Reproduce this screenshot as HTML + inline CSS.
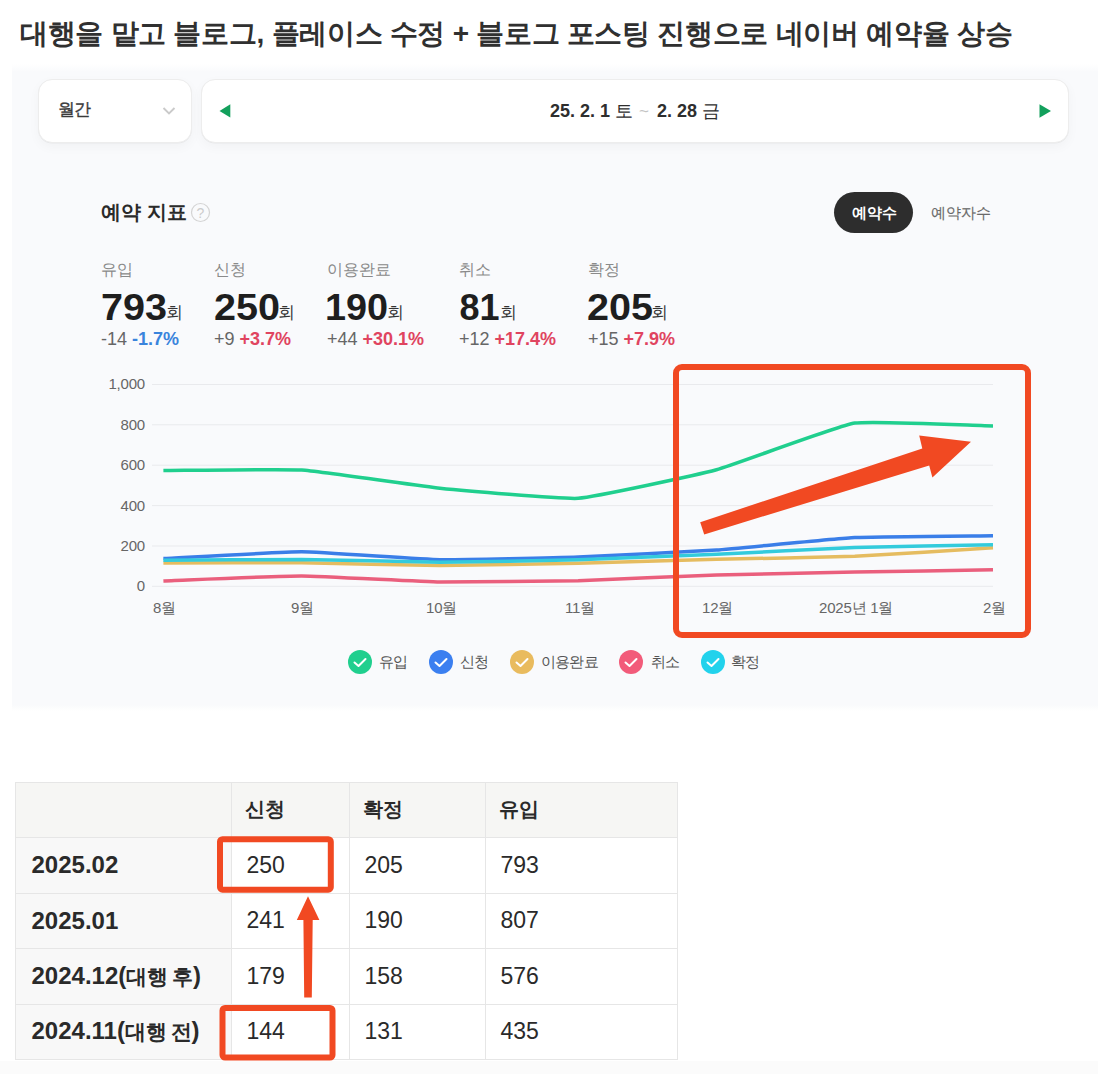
<!DOCTYPE html>
<html><head><meta charset="utf-8">
<style>
*{margin:0;padding:0;box-sizing:border-box}
html,body{width:1098px;height:1074px;overflow:hidden;background:#fff}
body{position:relative;font-family:"Liberation Sans",sans-serif;color:#222}
.abs{position:absolute;white-space:nowrap}
.title{left:20px;top:14px;font-size:28px;font-weight:bold;color:#303030;line-height:40px;letter-spacing:-0.3px}
.panel{left:12px;top:64px;width:1086px;height:647px;background:linear-gradient(to bottom,#fff 0px,#f9fafc 8px,#f9fafc 641px,#fbfcfd 643px,#fff 647px)}
.card{background:#fff;border:1px solid #ededed;border-radius:14px;box-shadow:0 0.5px 0 rgba(0,0,0,0.05),0 4px 12px rgba(0,0,0,0.035)}
.lbl{font-size:16px;color:#8a8a8a;line-height:20px}
.big{font-size:36px;font-weight:bold;color:#1e1e1e;line-height:40px}
.num{display:inline-block;transform:scaleX(1.1);transform-origin:0 50%}
.unit{font-size:16.5px;color:#333;font-weight:normal;letter-spacing:0;margin-left:5px;vertical-align:2px}
.chg{font-size:18px;color:#666;line-height:20px}
.chg b{font-weight:bold}
.red{color:#e0445f}.blue{color:#3a84dc}
.ax{font-size:15px;color:#666;line-height:16px;letter-spacing:-0.2px}
.leg{font-size:14.5px;color:#555;line-height:18px;letter-spacing:-0.6px}
.dot{position:absolute;width:24px;height:24px;border-radius:50%}
table{position:absolute;left:15px;top:781.5px;border-collapse:collapse;font-size:23px;color:#2a2a2a}
td{border:1px solid #e6e6e6;height:55.5px;padding:0 0 0 14.5px;vertical-align:middle}
tr.h td{background:#f6f6f4;font-weight:bold;font-size:20px;padding-left:13px}
.k{font-size:21px;letter-spacing:-0.3px;word-spacing:-1px}
td.c0{background:#f8f8f8;font-weight:bold;width:216px;font-size:24px;padding-left:15.5px}
</style></head><body>
<div class="abs title">대행을 맡고 블로그, 플레이스 수정 + 블로그 포스팅 진행으로 네이버 예약율 상승</div>
<div class="abs panel"></div>
<div class="abs card" style="left:38px;top:79px;width:154px;height:64px"></div>
<div class="abs" style="left:58px;top:100px;font-size:17px;color:#3a3a3a;line-height:20px;-webkit-text-stroke:0.35px #3a3a3a;letter-spacing:-0.8px">월간</div>
<svg class="abs" style="left:160px;top:104px" width="18" height="14"><path d="M3.5,4 L9,9.5 L14.5,4" fill="none" stroke="#cacaca" stroke-width="1.9"/></svg>
<div class="abs card" style="left:201px;top:79px;width:868px;height:64px"></div>
<svg class="abs" style="left:0;top:0" width="1098" height="200"><path d="M219.5,111 L230.3,104.3 L230.3,117.6 Z" fill="#13a05c"/><path d="M1051,111 L1039.5,104.3 L1039.5,117.7 Z" fill="#13a05c"/></svg>
<div class="abs" style="left:550px;top:101px;font-size:18px;font-weight:bold;color:#2e2e2e;line-height:20px">25. 2. 1 <span style="font-weight:normal">토</span><span style="color:#c4c4c4;font-weight:normal;font-size:17px;margin:0 8px 0 6px">~</span>2. 28 <span style="font-weight:normal">금</span></div>

<div class="abs" style="left:101px;top:199px;font-size:20px;font-weight:bold;color:#2a2a2a;line-height:26px">예약 지표</div>
<svg class="abs" style="left:190px;top:202px" width="21" height="21"><circle cx="10.5" cy="10.5" r="9" fill="none" stroke="#d4d4d4" stroke-width="1.2"/><text x="10.5" y="15.5" text-anchor="middle" font-size="14" fill="#cccccc" font-family="Liberation Sans">?</text></svg>
<div class="abs" style="left:834px;top:192px;width:79px;height:41px;border-radius:21px;background:#2d2d2d"></div>
<div class="abs" style="left:852px;top:203px;font-size:15px;font-weight:bold;color:#fff;line-height:20px">예약수</div>
<div class="abs" style="left:930.5px;top:203px;font-size:15px;color:#6a6a6a;line-height:20px;-webkit-text-stroke:0.15px #6a6a6a">예약자수</div>

<div class="abs lbl" style="left:101px;top:260px">유입</div>
<div class="abs big" style="left:101px;top:288px"><span class="num">793</span><span class="unit" style="margin-left:4.5px">회</span></div>
<div class="abs chg" style="left:101px;top:329px">-14 <b class="blue">-1.7%</b></div>
<div class="abs lbl" style="left:214px;top:260px">신청</div>
<div class="abs big" style="left:213.5px;top:288px"><span class="num">250</span><span class="unit" style="margin-left:4px">회</span></div>
<div class="abs chg" style="left:214px;top:329px">+9 <b class="red">+3.7%</b></div>
<div class="abs lbl" style="left:327px;top:260px">이용완료</div>
<div class="abs big" style="left:325px;top:288px"><span class="num" style="transform:scaleX(1.05)">190</span><span class="unit" style="margin-left:2px">회</span></div>
<div class="abs chg" style="left:327px;top:329px">+44 <b class="red">+30.1%</b></div>
<div class="abs lbl" style="left:459px;top:260px">취소</div>
<div class="abs big" style="left:459.5px;top:288px"><span class="num" style="transform:none">81</span><span class="unit" style="margin-left:0.5px">회</span></div>
<div class="abs chg" style="left:459px;top:329px">+12 <b class="red">+17.4%</b></div>
<div class="abs lbl" style="left:588px;top:260px">확정</div>
<div class="abs big" style="left:587px;top:288px"><span class="num">205</span><span class="unit" style="margin-left:4px">회</span></div>
<div class="abs chg" style="left:588px;top:329px">+15 <b class="red">+7.9%</b></div>

<svg class="abs" style="left:0;top:0" width="1098" height="1074">
<g stroke="#e9eaed" stroke-width="1">
<line x1="152" y1="384.5" x2="993" y2="384.5"/><line x1="152" y1="424.8" x2="993" y2="424.8"/><line x1="152" y1="465.2" x2="993" y2="465.2"/><line x1="152" y1="505.6" x2="993" y2="505.6"/><line x1="152" y1="546" x2="993" y2="546"/><line x1="152" y1="586.3" x2="993" y2="586.3"/>
</g>
<g fill="none" stroke-width="3.5" stroke-linecap="butt" stroke-linejoin="round">
<path d="M163.4,470.6 C180.0,470.5 285.1,468.9 301.7,470.0 C318.3,471.1 423.3,486.5 439.9,488.2 C456.5,489.9 561.8,499.4 578.2,498.3 C595.0,497.2 700.2,474.2 716.5,469.8 C733.3,465.2 837.7,425.8 854.8,423.1 C870.9,420.5 976.4,425.6 993.0,425.9" stroke="#20cf8e"/>
<path d="M163.4,558.5 C180.0,557.7 285.1,551.8 301.7,551.8 C318.3,551.9 423.3,559.4 439.9,559.7 C456.5,560.0 561.6,557.7 578.2,557.1 C594.8,556.5 699.9,551.2 716.5,550.0 C733.1,548.8 838.1,538.4 854.8,537.5 C871.3,536.6 976.4,535.9 993.0,535.7" stroke="#3a7ee8"/>
<path d="M163.4,563.0 C180.0,562.9 285.1,562.6 301.7,562.8 C318.3,562.9 423.3,565.4 439.9,565.4 C456.5,565.4 561.6,563.5 578.2,563.2 C594.8,562.8 699.9,559.7 716.5,559.3 C733.1,558.9 838.2,557.0 854.8,556.3 C871.4,555.6 976.4,548.8 993.0,547.8" stroke="#e5bc60"/>
<path d="M163.4,580.9 C180.0,580.3 285.1,575.8 301.7,575.9 C318.3,576.0 423.3,581.7 439.9,582.0 C456.5,582.2 561.6,581.2 578.2,580.7 C594.8,580.3 699.9,575.4 716.5,574.9 C733.1,574.4 838.2,572.4 854.8,572.1 C871.3,571.7 976.4,570.1 993.0,569.8" stroke="#ea5f7d"/>
<path d="M163.4,560.3 C180.0,560.2 285.1,559.4 301.7,559.5 C318.3,559.6 423.3,562.1 439.9,562.2 C456.5,562.2 561.6,560.2 578.2,559.7 C594.8,559.3 699.9,555.0 716.5,554.3 C733.1,553.5 838.1,548.0 854.8,547.4 C871.3,546.8 976.4,545.1 993.0,544.8" stroke="#33cbdc"/>
</g>
</svg>
<div class="abs ax" style="right:953px;top:376px">1,000</div>
<div class="abs ax" style="right:953px;top:417px">800</div>
<div class="abs ax" style="right:953px;top:457px">600</div>
<div class="abs ax" style="right:953px;top:498px">400</div>
<div class="abs ax" style="right:953px;top:538px">200</div>
<div class="abs ax" style="right:953px;top:578px">0</div>
<div class="abs ax" style="left:153px;top:600px">8월</div>
<div class="abs ax" style="left:291px;top:600px">9월</div>
<div class="abs ax" style="left:426px;top:600px">10월</div>
<div class="abs ax" style="left:565px;top:600px">11월</div>
<div class="abs ax" style="left:702px;top:600px">12월</div>
<div class="abs ax" style="left:819px;top:600px">2025년 1월</div>
<div class="abs ax" style="left:983px;top:600px">2월</div>

<div class="dot" style="left:348px;top:650px;background:#20cf8e"></div><div class="abs leg" style="left:378.5px;top:653px">유입</div>
<div class="dot" style="left:429px;top:650px;background:#3b7ff0"></div><div class="abs leg" style="left:459.5px;top:653px">신청</div>
<div class="dot" style="left:510px;top:650px;background:#e9bb5e"></div><div class="abs leg" style="left:540.5px;top:653px">이용완료</div>
<div class="dot" style="left:619px;top:650px;background:#f25b7a"></div><div class="abs leg" style="left:650.5px;top:653px">취소</div>
<div class="dot" style="left:701px;top:650px;background:#22d2ec"></div><div class="abs leg" style="left:731px;top:653px">확정</div>
<svg class="abs" style="left:0;top:640px" width="1098" height="40">
<g fill="none" stroke="#fff" stroke-width="2" stroke-linecap="round" stroke-linejoin="round">
<path d="M354.5,22.5 L358.5,26 L365.5,19"/><path d="M435.5,22.5 L439.5,26 L446.5,19"/><path d="M516.5,22.5 L520.5,26 L527.5,19"/><path d="M625.5,22.5 L629.5,26 L636.5,19"/><path d="M707.5,22.5 L711.5,26 L718.5,19"/>
</g></svg>

<table>
<tr class="h"><td class="c0" style="background:#f6f6f4"></td><td style="width:118px">신청</td><td style="width:136px">확정</td><td style="width:192px">유입</td></tr>
<tr><td class="c0">2025.02</td><td>250</td><td>205</td><td>793</td></tr>
<tr><td class="c0">2025.01</td><td>241</td><td>190</td><td>807</td></tr>
<tr><td class="c0">2024.12(<span class="k">대행 후</span>)</td><td>179</td><td>158</td><td>576</td></tr>
<tr><td class="c0">2024.11(<span class="k">대행 전</span>)</td><td>144</td><td>131</td><td>435</td></tr>
</table>

<svg class="abs" style="left:0;top:0" width="1098" height="1074">
<g fill="none" stroke="#f14922" stroke-width="6">
<rect x="676" y="367" width="352" height="268" rx="6"/>
<rect x="220" y="839.2" width="110.8" height="50.5" rx="2.5"/>
<rect x="222.5" y="1008" width="110" height="49.6" rx="2.5"/>
</g>
<g fill="#f14922">
<polygon points="700.2,522.2 922.3,448.6 919.2,435.5 971,441.8 932.4,477.6 929.2,465.6 704.2,534.4"/>
<polygon points="304.2,997.4 311.8,997.4 312.7,920 319.4,920 308,896.2 296.8,920 303.4,920"/>
</g>
</svg>
<div class="abs" style="left:0;top:1061px;width:1098px;height:13px;background:#fbfbfb"></div>
</body></html>
